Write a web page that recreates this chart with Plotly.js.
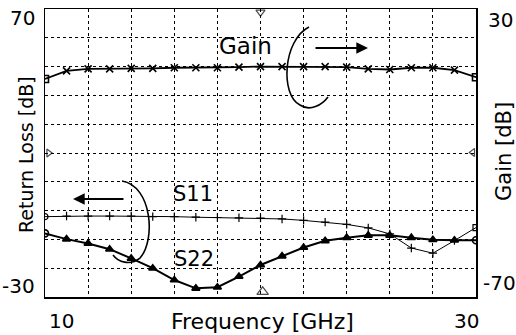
<!DOCTYPE html>
<html>
<head>
<meta charset="utf-8">
<script src="https://cdn.plot.ly/plotly-3.0.1.min.js"></script>
<style>html,body{margin:0;padding:0;background:#fff;}#chart{width:516px;height:335px;}</style>
</head>
<body>
<div id="chart"></div>
<script>
// Frequency points (GHz)
const freq = [10,11,12,13,14,15,16,17,18,19,20,21,22,23,24,25,26,27,28,29,30];
// Gain [dB] (right axis)
const gain = [5.7,8.5,9.2,9.2,9.4,9.4,9.6,9.6,9.6,9.8,10.0,10.0,10.0,10.0,9.8,9.2,9.0,9.6,9.6,8.8,6.3];
// S11 return loss [dB] (left axis)
const s11 = [-2.1,-1.9,-1.9,-1.9,-1.9,-2.1,-2.1,-2.3,-2.4,-2.5,-2.6,-2.9,-3.4,-4.0,-4.8,-6.0,-8.1,-13.0,-14.8,-10.4,-5.9];
// S22 return loss [dB] (left axis)
const s22 = [-7.9,-9.9,-11.4,-13.4,-16.6,-20.0,-24.1,-27.0,-26.6,-22.9,-18.9,-15.8,-12.8,-10.5,-9.4,-8.6,-8.6,-9.4,-10.1,-10.3,-10.3];
// Edge marker positions (frequency, return loss)
const edgeX = [20, 20.1, 10.17, 29.85];
const edgeY = [68.9, -28.2, 20, 20.2];
// Tick labels
const leftTicks = ['70','-30'];
const rightTicks = ['30','-70'];
const xTicks = ['10','30'];

function ends(n, first, mid, last){ const a = new Array(n).fill(mid); a[0]=first; a[n-1]=last; return a; }

// plot area in pixels
const L=45, R=476, T=9, B=297;
function px(x){ return (x-L)/(R-L); }
function py(y){ return (B-y)/(B-T); }

const FONT = 'DejaVu Sans, sans-serif';

const traces = [
  {x:freq, y:gain, yaxis:'y2', mode:'lines+markers', line:{color:'black', width:1.8},
   marker:{symbol:ends(freq.length,'square-open','x-thin','square-open'), size:7, color:'black', line:{color:'black', width:1.6}}},
  {x:freq, y:s11, mode:'lines+markers', line:{color:'black', width:1},
   marker:{symbol:ends(freq.length,'circle-open','cross-thin','square-open'), size:6, color:'black', line:{color:'black', width:1.2}}},
  {x:freq, y:s22, mode:'lines+markers', line:{color:'black', width:2},
   marker:{symbol:ends(freq.length,'circle-open','triangle-up','circle-open'), size:7, color:'black', line:{color:'black', width:1.6}}},
  {x:edgeX, y:edgeY, mode:'markers', cliponaxis:false, hoverinfo:'skip',
   marker:{symbol:['triangle-down-open','triangle-up-open','triangle-right-open','triangle-left-open'], size:[8,10,7,7], color:'black', line:{color:'black', width:1.2}}}
];

function txt(text, x, y, size, opts){
  return Object.assign({text:text, xref:'paper', yref:'paper', x:px(x), y:py(y), showarrow:false,
    xanchor:'center', yanchor:'middle', font:{family:FONT, size:size, color:'black'}}, opts||{});
}
function arrow(hx, hy, tx, ty){
  return {text:'', xref:'paper', yref:'paper', x:px(hx), y:py(hy), ax:tx-hx, ay:ty-hy, axref:'pixel', ayref:'pixel',
    showarrow:true, arrowhead:2, arrowsize:1.3, arrowwidth:1.8, arrowcolor:'black'};
}

const annotations = [
  txt(leftTicks[0], 37, 18, 20, {xanchor:'right'}),
  txt(leftTicks[1], 37, 286, 20, {xanchor:'right'}),
  txt(rightTicks[0], 486, 20, 20, {xanchor:'left'}),
  txt(rightTicks[1], 481, 283, 20, {xanchor:'left'}),
  txt(xTicks[0], 61, 321, 20),
  txt(xTicks[1], 466, 321, 20),
  txt('Frequency [GHz]', 262, 321, 22),
  txt('Return Loss [dB]', 26, 155, 19, {textangle:-90}),
  txt('Gain [dB]', 504, 152, 21, {textangle:-90}),
  txt('Gain', 245, 46, 23),
  txt('S11', 193, 194, 21),
  txt('S22', 194, 259, 21),
  arrow(368, 48, 314, 48),
  arrow(73, 199, 125, 199)
];

function path(pts){
  return pts.map(p => p[0] + ' ' + p.slice(1).map((v,i)=> i%2===0 ? px(v).toFixed(4) : py(v).toFixed(4)).join(',')).join(' ');
}

const shapes = [
  {type:'path', xref:'paper', yref:'paper', line:{color:'black', width:1.6},
   path: path([['M',309,27],['C',283,40,280,95,300,105],['C',310,112,322,105,328,97]])},
  {type:'path', xref:'paper', yref:'paper', line:{color:'black', width:1.6},
   path: path([['M',122,181],['C',152,186,156,240,140,258],['C',130,266,118,262,113,255]])}
];

const layout = {
  width:516, height:335,
  margin:{l:L, r:516-R, t:T, b:335-B, pad:0},
  paper_bgcolor:'white', plot_bgcolor:'white',
  showlegend:false,
  font:{family:FONT, color:'black'},
  xaxis:{range:[10,30], dtick:2, tick0:10, showgrid:true, gridcolor:'black', griddash:'dot', gridwidth:1,
         zeroline:false, showline:true, mirror:true, linecolor:'black', linewidth:1.5, showticklabels:false, ticks:''},
  yaxis:{range:[-30,70], dtick:10, tick0:-30, showgrid:true, gridcolor:'black', griddash:'dot', gridwidth:1,
         zeroline:false, showline:true, mirror:true, linecolor:'black', linewidth:1.5, showticklabels:false, ticks:''},
  yaxis2:{range:[-70,30], overlaying:'y', side:'right', showgrid:false, zeroline:false, showticklabels:false, ticks:'', showline:false},
  annotations:annotations,
  shapes:shapes
};

Plotly.newPlot('chart', traces, layout, {displayModeBar:false, staticPlot:true});
</script>
</body>
</html>
